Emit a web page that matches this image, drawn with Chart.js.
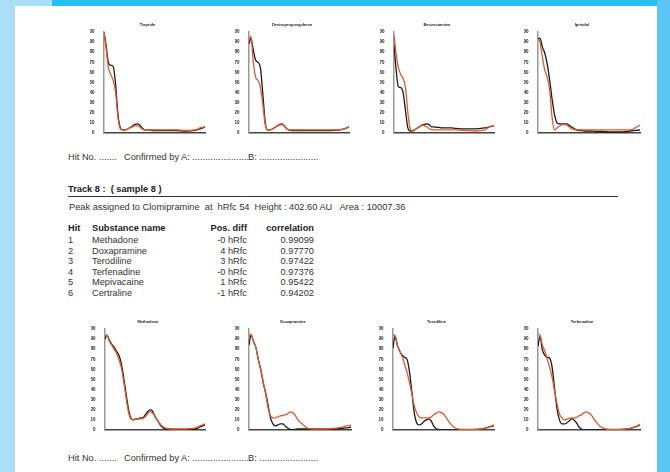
<!DOCTYPE html>
<html><head><meta charset="utf-8">
<script src="https://cdn.jsdelivr.net/npm/chart.js@4.4.1/dist/chart.umd.min.js"></script>
<style>
html,body{margin:0;padding:0;}
body{width:670px;height:472px;position:relative;overflow:hidden;background:#fff;font-family:Arial,"Liberation Sans",sans-serif;}
.bg{position:absolute;}
.t{position:absolute;font-size:9.25px;color:#333;white-space:pre;line-height:10px;}
.b{font-weight:bold;color:#222;}
.r{text-align:right;}
canvas{position:absolute;}
</style></head><body>
<div class="bg" style="left:0;top:0;width:15px;height:472px;background:#a9dff7"></div>
<div class="bg" style="left:0;top:0;width:52px;height:6px;background:#a9dff7"></div>
<div class="bg" style="left:52px;top:0;width:618px;height:6px;background:#22c1f1"></div>
<div class="bg" style="left:657px;top:0;width:13px;height:472px;background:#5ac8f2"></div>
<div id="texts"></div>
<div class="bg" style="left:68px;top:196px;width:550px;height:1px;background:#333"></div>
<script>
// ---------- DATA ----------
const wavelengths = [191,195,200,205,210,215,220,225,230,235,240,245,250,255,260,265,270,275,280,285,290,295,300,310,320,340,360,380,390,400];
const xTickValues = [200,250,300,350,400];
const yTickValues = [0,10,20,30,40,50,60,70,80,90,100];
const chartTitles = ["Tiapride","Dextropropoxyphene","Benzoctamine","Iprindol","Methadone","Doxapramine","Terodiline","Terfenadine"];

// black = sample spectrum, red = library spectrum
const sample1  = [100,88,70,67,66,48,18,5,3,3,4,5.5,7,8.5,9,8,5,3,3,3,2.5,2.5,2.5,2.5,2.5,2.5,2,2.5,4,6];
const library1 = [100,85,65,58,52,40,15,4,3,3,4,5,6,7,7,6,4,3,3,3,3,3,3,3,3,3,2.5,3,5,6];
const sample2  = [88,94,82,72,70,64,38,10,3,3,4,5.5,7,8.5,9,7,4,3,2.5,2.5,2.5,2.5,2.5,2.5,2.5,2.5,2.5,3,4,6];
const library2 = [92,96,70,55,52,45,28,8,3,3,4,5.5,7,8,8,7,4,3,3,3,3,3,3,3,3,3,3,3,4,6];
const sample3  = [88,65,46,45,40,22,5,2,2,3.5,5,6.5,8,8.5,9,8,6,6,5.5,5.5,5,5,5,5,4.5,4,4,5,6,7];
const library3 = [97,80,65,58,54,45,20,4,2,3.5,5,6.5,8,7,6,4,3.5,3,3,3,3,3,3,3,3,2.5,2,3,6,7];
const sample4  = [93,94,85,79,68,52,33,18,10,9,9,9,9,7.5,6,4.5,3,2.5,2.5,2,2,2,2,1.5,1.5,1,1,2,2.5,3];
const library4 = [93,90,75,62,55,42,15,3,5,7,8,8.5,8,6,4,3.5,3,3,3,3,3,3,3,3,3,3,3,3,5,8];
const sample5  = [90,94,89,85,82,78,74,66,52,36,21,12,10,11,11,12,12,15,18,20,19,14,10,3,1,0.5,0.5,1,3,5];
const library5 = [94,94,88,84,80,76,70,62,48,32,18,11,10,11,11,11,11.5,13,16,18,17,14,10,4,1.5,1,1,2,4,6];
const sample6  = [84,94,88,82,70,60,47,37,25,12,6,4,5,6,6,4,2,0.5,0.3,0.5,1,1,1,1,1,1,1,1.5,2,3];
const library6 = [92,95,88,82,70,60,48,36,22,14,12,12,13,14,14.5,15,16,18,17.5,15,11,8,6,2,1,1,1.5,2.5,4,5];
const sample7  = [81,93,84,78,74,72,70,58,38,17,7,5,6,8.5,10,11,9,4,1.5,0.5,0,0,0,0,0,0,0.5,1.5,3,4];
const library7 = [94,94,84,78,73,65,57,47,36,24,17,13,12,12,12,12,13,15,16.5,18,17.5,16,13,6,2,0.5,0.5,1.5,3,5];
const sample8  = [83,93,79,74,72,71,62,41,21,10,6,6,7,9,11,10,7,3,1,0,0,0,0,0,0,0,0.5,1.5,3,5];
const library8 = [95,94,84,78,70,62,52,38,26,16,12,10,10.5,11.5,12,12,12.5,14,15,17,18,17,15,8,3,0.5,0.5,1.5,3,5.5];

const hitNumbers = ["1","2","3","4","5","6"];
const substanceNames = ["Methadone","Doxapramine","Terodiline","Terfenadine","Mepivacaine","Certraline"];
const posDiffs = ["-0 hRfc","4 hRfc","3 hRfc","-0 hRfc","1 hRfc","-1 hRfc"];
const correlations = ["0.99099","0.97770","0.97422","0.97376","0.95422","0.94202"];

// ---------- TEXT ----------
const T = document.getElementById('texts');
function addText(txt, x, y, cls, right){
  const d = document.createElement('div');
  d.className = 't ' + (cls||'');
  d.textContent = txt;
  d.style.top = (y-5) + 'px';
  if (right) { d.style.left = (x-80)+'px'; d.style.width='80px'; d.classList.add('r'); }
  else d.style.left = x + 'px';
  T.appendChild(d);
}
addText("Hit No. .......", 68, 157);
addText("Confirmed by A: .......................", 124, 157);
addText("B: .......................", 248, 157);
addText("Track 8 :  ( sample 8 )", 68, 189, 'b');
addText("Peak assigned to Clomipramine  at  hRfc 54  Height : 402.60 AU   Area : 10007.36", 69, 207);
addText("Hit", 68, 228, 'b');
addText("Substance name", 92, 228, 'b');
addText("Pos. diff", 247, 228, 'b', true);
addText("correlation", 314, 228, 'b', true);
for (let i=0;i<hitNumbers.length;i++){
  const y = 240 + i*10.5;
  addText(hitNumbers[i], 68, y);
  addText(substanceNames[i], 92, y);
  addText(posDiffs[i], 247, y, '', true);
  addText(correlations[i], 314, y, '', true);
}
addText("Hit No. .......", 68, 458);
addText("Confirmed by A: .......................", 124, 458);
addText("B: .......................", 248, 458);

// ---------- CHARTS ----------
const plotBoxes = [
  [104,205,32,133],[249,349,32,133],[394,494,32,133],[538,640,32,133],
  [105,205,329,430],[249,351,329,430],[393,494,329,430],[538,640,329,430]
];
const samples = [sample1,sample2,sample3,sample4,sample5,sample6,sample7,sample8];
const libraries = [library1,library2,library3,library4,library5,library6,library7,library8];
const YW=14, TH=12, XH=9, RP=6;

plotBoxes.forEach((bx,i)=>{
  const [L,R,Tp,B] = bx;
  const c = document.createElement('canvas');
  const w = R-L+YW+RP, h = B-Tp+TH+XH;
  c.width = w; c.height = h;
  c.style.left = (L-YW)+'px'; c.style.top = (Tp-TH)+'px';
  c.style.width = w+'px'; c.style.height = h+'px';
  document.body.appendChild(c);
  const toPts = arr => wavelengths.map((x,k)=>({x:x,y:arr[k]}));
  new Chart(c, {
    type:'line',
    data:{datasets:[
      {data:toPts(libraries[i]), borderColor:'#e4582e', borderWidth:1.3, pointRadius:0, cubicInterpolationMode:'monotone', fill:false},
      {data:toPts(samples[i]), borderColor:'#1a1a1a', borderWidth:1.3, pointRadius:0, cubicInterpolationMode:'monotone', fill:false}
    ]},
    options:{
      responsive:false, animation:false, devicePixelRatio:1,
      layout:{padding:{left:0,right:RP,top:0,bottom:0}},
      plugins:{
        legend:{display:false}, tooltip:{enabled:false},
        title:{display:true, text:chartTitles[i], color:'#222', font:{size:4, weight:'bold', family:'Arial', lineHeight:1}, padding:{top:3,bottom:5}}
      },
      scales:{
        x:{type:'linear', min:191, max:400,
          afterBuildTicks:s=>{s.ticks = xTickValues.map(v=>({value:v}));},
          afterFit:s=>{s.height = XH;},
          grid:{display:false},
          border:{display:true,color:'#444',width:1.5},
          ticks:{font:{size:4.5,weight:'bold',family:'Arial'},color:'#222',padding:2,maxRotation:0,autoSkip:false}},
        y:{min:0,max:100,
          afterBuildTicks:s=>{s.ticks = yTickValues.map(v=>({value:v}));},
          afterFit:s=>{s.width = YW;},
          grid:{display:false},
          border:{display:true,color:'#999',width:1.5},
          ticks:{font:{size:4.5,weight:'bold',family:'Arial'},color:'#222',padding:1.5,autoSkip:false}}
      }
    }
  });
});
</script>
</body></html>
